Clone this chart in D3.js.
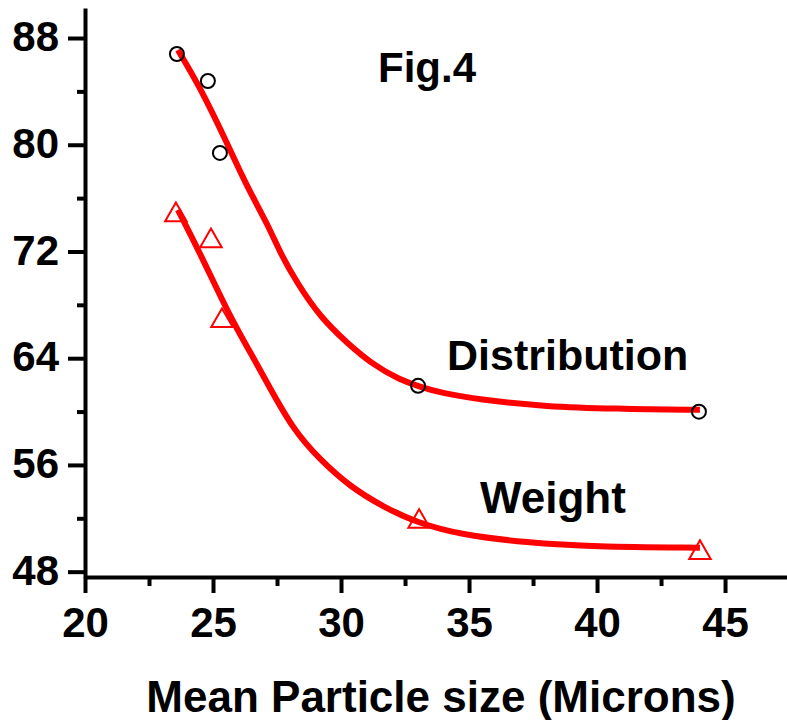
<!DOCTYPE html>
<html><head><meta charset="utf-8">
<script src="https://cdn.jsdelivr.net/npm/d3@7"></script>
<style>
html,body{margin:0;padding:0;background:#fff;}
svg text{font-family:"Liberation Sans",Arial,sans-serif;font-weight:bold;fill:#000;}
</style></head>
<body>
<svg id="c" width="787" height="720"></svg>
<script>
// Measured markers
const distX = [23.59, 24.80, 25.27, 33.01, 43.98];
const distY = [86.80, 84.78, 79.39, 61.93, 59.99];
const wtX = [23.55, 24.92, 25.35, 33.05, 44.02];
const wtY = [74.74, 72.79, 66.80, 51.75, 49.42];
// Fitted curves
const distCurveX = [23.63, 24.49, 25.55, 26.33, 27.15, 27.62, 28.28, 29.18, 30.23, 31.25, 32.30, 33.09, 33.87, 35.43, 38.05, 40.63, 44.02];
const distCurveY = [87.10, 84.33, 80.13, 76.84, 73.99, 71.90, 69.65, 67.10, 65.15, 63.51, 62.38, 61.86, 61.41, 60.88, 60.36, 60.21, 60.13];
const wtCurveX = [23.63, 24.49, 25.66, 26.56, 27.11, 28.13, 29.18, 30.35, 31.64, 32.97, 34.65, 37.27, 39.84, 44.02];
const wtCurveY = [75.12, 71.90, 67.10, 64.10, 62.16, 58.64, 56.39, 54.37, 52.87, 51.67, 50.77, 50.17, 49.87, 49.80];
const xTicks = [20, 25, 30, 35, 40, 45];
const xMinor = [22.5, 27.5, 32.5, 37.5, 42.5, 47.5];
const yTicks = [48, 56, 64, 72, 80, 88];
const yMinor = [52, 60, 68, 76, 84];
const labels = {fig: "Fig.4", dist: "Distribution", wt: "Weight", xTitle: "Mean Particle size (Microns)"};

const svg = d3.select("#c");
const x = d3.scaleLinear().domain([20, 47.42]).range([85, 787]);
const y = d3.scaleLinear().domain([47.6, 90.25]).range([577, 8]);

// curves
const line = d3.line().x(d => x(d[0])).y(d => y(d[1])).curve(d3.curveBasis);
svg.append("path").datum(distCurveX.map((v,i)=>[v,distCurveY[i]]))
  .attr("d", line).attr("fill","none").attr("stroke","#ff0000").attr("stroke-width",6);
svg.append("path").datum(wtCurveX.map((v,i)=>[v,wtCurveY[i]]))
  .attr("d", line).attr("fill","none").attr("stroke","#ff0000").attr("stroke-width",6);

// markers
svg.selectAll(".dm").data(distX.map((v,i)=>[v,distY[i]])).join("circle")
  .attr("cx", d=>x(d[0])).attr("cy", d=>y(d[1])).attr("r",7)
  .attr("fill","none").attr("stroke","#000").attr("stroke-width",2);
const tri = d3.symbol().type(d3.symbolTriangle).size(200);
svg.selectAll(".wm").data(wtX.map((v,i)=>[v,wtY[i]])).join("path")
  .attr("d", tri).attr("transform", d=>`translate(${x(d[0])},${y(d[1])})`)
  .attr("fill","none").attr("stroke","#ff0000").attr("stroke-width",2);

// axes
function styleAxis(g){
  g.selectAll("path.domain").attr("stroke","#000").attr("stroke-width",4);
  g.selectAll(".tick line").attr("stroke","#000").attr("stroke-width",4);
  g.selectAll(".tick text").style("font-size","42px").attr("fill","#000");
}
const ya = svg.append("g").attr("transform","translate(85,0)")
  .call(d3.axisLeft(y).tickValues(yTicks).tickSize(17).tickSizeOuter(0).tickPadding(9).tickFormat(d3.format("d")));
styleAxis(ya);
ya.selectAll(".tick text").attr("dy","0.3em");
const ym = svg.append("g").attr("transform","translate(85,0)")
  .call(d3.axisLeft(y).tickValues(yMinor).tickSize(8).tickSizeOuter(0).tickFormat(""));
styleAxis(ym); ym.select("path.domain").remove();

const xa = svg.append("g").attr("transform","translate(0,577)")
  .call(d3.axisBottom(x).tickValues(xTicks).tickSize(16).tickSizeOuter(0).tickPadding(14).tickFormat(d3.format("d")));
styleAxis(xa);
xa.selectAll(".tick text").attr("dy","0.71em");
const xm = svg.append("g").attr("transform","translate(0,577)")
  .call(d3.axisBottom(x).tickValues(xMinor).tickSize(9).tickSizeOuter(0).tickFormat(""));
styleAxis(xm); xm.select("path.domain").remove();

// texts
svg.append("text").attr("x",378).attr("y",82).style("font-size","42px").text(labels.fig);
svg.append("text").attr("x",447).attr("y",370).style("font-size","43px").text(labels.dist);
svg.append("text").attr("x",480).attr("y",513).style("font-size","44px").text(labels.wt);
svg.append("text").attr("x",441).attr("y",712).attr("text-anchor","middle").style("font-size","44px").text(labels.xTitle);
</script>
</body></html>
